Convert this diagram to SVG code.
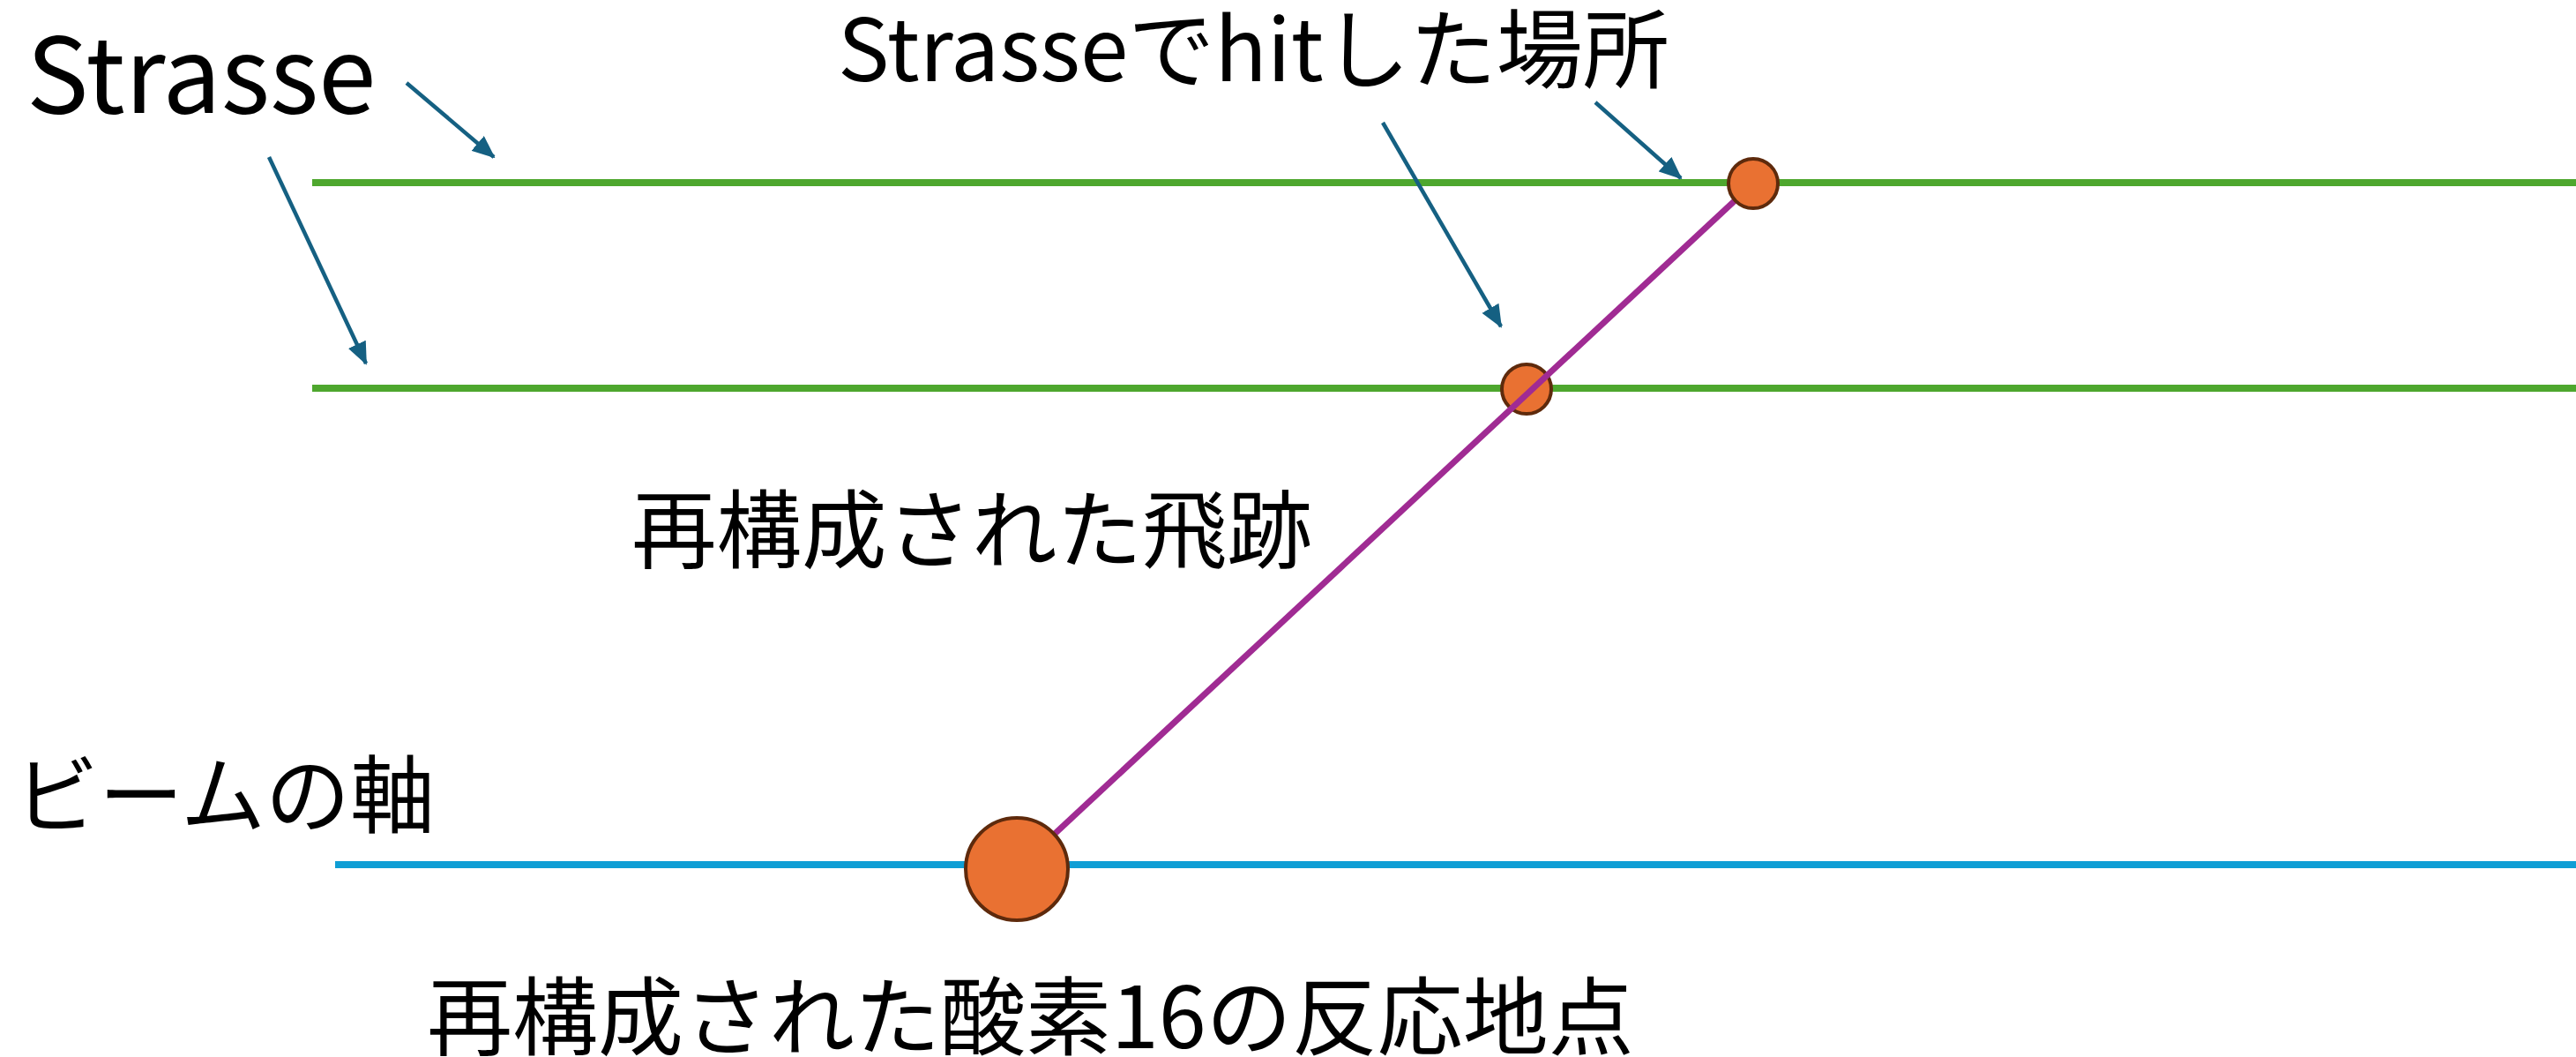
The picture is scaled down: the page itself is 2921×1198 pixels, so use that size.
<svg xmlns="http://www.w3.org/2000/svg" width="2921" height="1198" viewBox="0 0 2921 1198">
<style>
.t{font-family:"Noto Sans CJK JP","Noto Sans",sans-serif;fill:#000}
.strasse{stroke:#4EA72E;stroke-width:8}
.beam{stroke:#0F9ED5;stroke-width:8}
.track{stroke:#A02B93;stroke-width:7}
.hit{fill:#E97132;stroke:#5E2A0C;stroke-width:4}
.arr{stroke:#156082;stroke-width:4.5;fill:none;marker-end:url(#ah)}
</style>
<defs>
<marker id="ah" markerUnits="userSpaceOnUse" markerWidth="26" markerHeight="22" refX="24" refY="11" orient="auto">
<path d="M0,0 L26,11 L0,22 Z" fill="#156082"/>
</marker>
</defs>
<rect width="2921" height="1198" fill="#fff"/>
<g id="lines">
<line id="strasse1" class="strasse" x1="354" y1="207" x2="2921" y2="207"/>
<line id="strasse2" class="strasse" x1="354" y1="440" x2="2921" y2="440"/>
</g>
<g id="hit2"><circle class="hit" cx="1731" cy="441" r="28"/></g>
<g id="beam-axis"><line class="beam" x1="380" y1="980" x2="2921" y2="980"/></g>
<g id="track"><line class="track" x1="1153" y1="985" x2="1988" y2="208"/></g>
<g id="hit1"><circle class="hit" cx="1988" cy="208" r="28"/></g>
<g id="vertex"><circle class="hit" cx="1153" cy="985" r="58"/></g>
<g id="connectors">
<line class="arr" x1="461" y1="94" x2="560" y2="178"/>
<line class="arr" x1="305" y1="178" x2="415" y2="412"/>
<line class="arr" x1="1568" y1="139" x2="1702" y2="370"/>
<line class="arr" x1="1809" y1="116" x2="1906" y2="202"/>
</g>
<g id="labels">
<text class="t" x="30" y="128" font-size="118">Strasse</text>
<text class="t" x="950" y="92" font-size="98">Strasseでhitした場所</text>
<text class="t" x="716" y="636" font-size="96.5">再構成された飛跡</text>
<text class="t" x="16" y="936" font-size="96">ビームの軸</text>
<text class="t" x="484" y="1188" font-size="97">再構成された酸素16の反応地点</text>
</g>
</svg>
